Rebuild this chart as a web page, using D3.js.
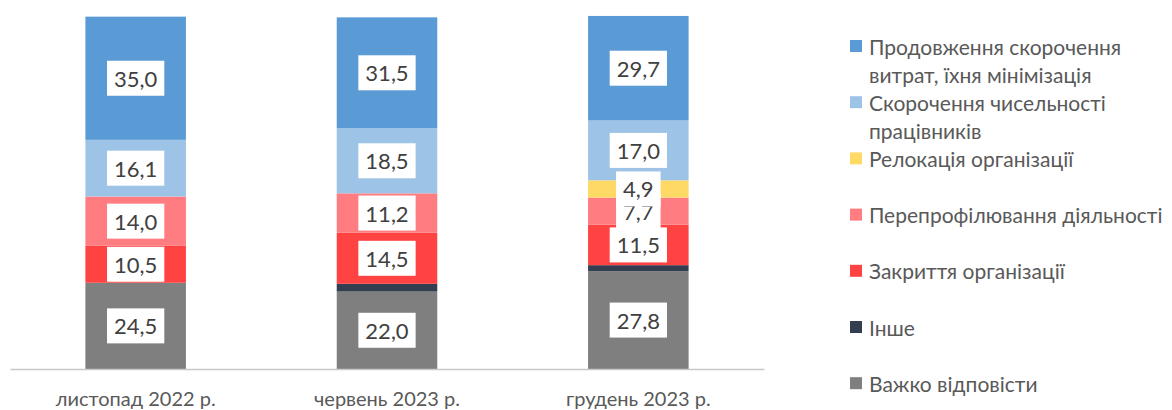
<!DOCTYPE html>
<html>
<head>
<meta charset="utf-8">
<script src="https://cdn.jsdelivr.net/npm/d3@7/dist/d3.min.js"></script>
<style>
  html, body { margin: 0; padding: 0; background: #fff; }
  svg { display: block; }
</style>
</head>
<body>
<svg id="chart" width="1172" height="410"></svg>
<script>
// ---- data ----
const categories = ["листопад 2022 р.", "червень 2023 р.", "грудень 2023 р."];
// series listed bottom-to-top of stack
const seriesNames = [
  "Важко відповісти",
  "Інше",
  "Закриття організації",
  "Перепрофілювання діяльності",
  "Релокація організації",
  "Скорочення чисельності працівників",
  "Продовження скорочення витрат, їхня мінімізація"
];
// legend text lines (same names, broken as in the legend)
const legendLabels = [
  ["Важко відповісти"],
  ["Інше"],
  ["Закриття організації"],
  ["Перепрофілювання діяльності"],
  ["Релокація організації"],
  ["Скорочення чисельності", "працівників"],
  ["Продовження скорочення", "витрат, їхня мінімізація"]
];
const vazhko      = [24.5, 22.0, 27.8];
const inshe       = [0,    2.2,  1.7];
const zakryttia   = [10.5, 14.5, 11.5];
const pereprofil  = [14.0, 11.2, 7.7];
const relokatsiia = [0,    0,    4.9];
const skorochChys = [16.1, 18.5, 17.0];
const prodovzh    = [35.0, 31.5, 29.7];
const seriesValues = [vazhko, inshe, zakryttia, pereprofil, relokatsiia, skorochChys, prodovzh];
const seriesColors = ["#7f7f7f", "#333f50", "#ff4343", "#ff7c80", "#ffd966", "#9dc3e6", "#5b9bd5"];
const showLabels = [true, false, true, true, true, true, true];
const yTicks = [0, 100];

// ---- build ----
const svg = d3.select("#chart");
const font = "Lato, 'Open Sans', sans-serif";

const rows = categories.map((c, i) => {
  const r = { cat: c };
  seriesNames.forEach((s, k) => r[s] = seriesValues[k][i]);
  return r;
});
const stack = d3.stack().keys(seriesNames)(rows);

const x = d3.scaleBand().domain(categories).range([10, 764]).paddingInner(0.6).paddingOuter(0.3);
const y = d3.scaleLinear().domain(d3.extent(yTicks)).range([369, 17]);

const fmt = v => d3.format(".1f")(v).replace(".", ",");

// bars
stack.forEach((layer, k) => {
  svg.append("g").selectAll("rect").data(layer).join("rect")
    .attr("x", d => x(d.data.cat))
    .attr("width", x.bandwidth())
    .attr("y", d => y(d[1]))
    .attr("height", d => Math.max(0, y(d[0]) - y(d[1])))
    .attr("fill", seriesColors[k]);
});

// axis line
const xAxis = d3.axisBottom(x).tickSize(0).tickPadding(23);
const ax = svg.append("g").attr("transform", `translate(0,${y(0)})`).call(xAxis);
ax.select(".domain").attr("stroke", "#c8c8c8").attr("stroke-width", 1.5);
ax.selectAll("text").attr("font-family", font).attr("font-size", 20).attr("fill", "#595959");

// data labels (drawn in series order, as boxes)
stack.forEach((layer, k) => {
  if (!showLabels[k]) return;
  layer.forEach(d => {
    const v = d[1] - d[0];
    if (!(v > 0)) return;
    const cx = x(d.data.cat) + x.bandwidth() / 2;
    const cy = (y(d[0]) + y(d[1])) / 2;
    const g = svg.append("g");
    const rect = g.append("rect").attr("fill", "#fff");
    const t = g.append("text")
      .attr("x", cx).attr("y", cy)
      .attr("text-anchor", "middle").attr("dominant-baseline", "central")
      .attr("font-family", font).attr("font-size", 22).attr("fill", "#404040")
      .text(fmt(v));
    const w = t.node().getComputedTextLength() + 14;
    rect.attr("x", cx - w / 2).attr("y", cy - 17.5).attr("width", w).attr("height", 35);
  });
});

// legend (top to bottom = reverse stacking order)
const legend = svg.append("g");
const legendOrder = seriesNames.map((s, k) => k).reverse();
const lx = 850, ly0 = 46, slot = 56.2, lineH = 28;
legendOrder.forEach((k, i) => {
  const cy = ly0 + slot * i;
  legend.append("rect").attr("x", lx).attr("y", cy - 6).attr("width", 12).attr("height", 12)
    .attr("fill", seriesColors[k]);
  const t = legend.append("text")
    .attr("font-family", font).attr("font-size", 21).attr("fill", "#595959");
  legendLabels[k].forEach((ln, j) => {
    t.append("tspan").attr("x", lx + 19).attr("y", cy + j * lineH)
      .attr("dominant-baseline", "central").text(ln);
  });
});
</script>
</body>
</html>
